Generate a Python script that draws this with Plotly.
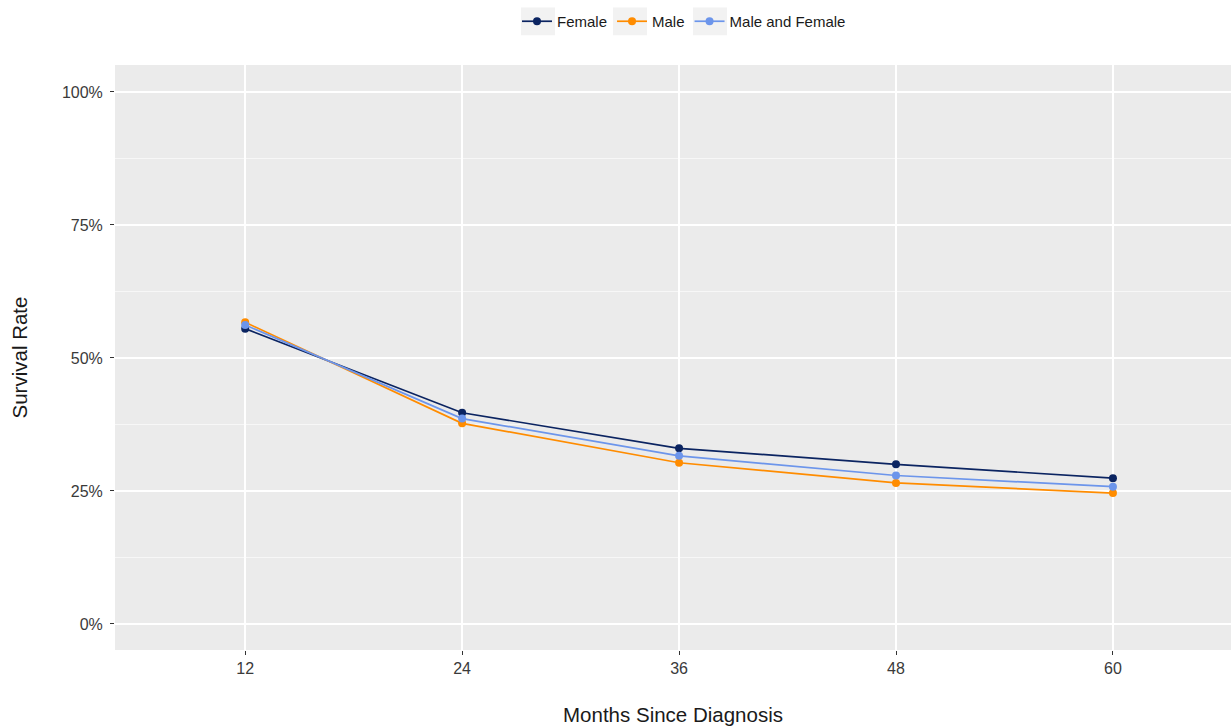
import plotly.graph_objects as go

months = [12, 24, 36, 48, 60]
female = [0.555, 0.397, 0.330, 0.300, 0.274]
male = [0.567, 0.377, 0.303, 0.265, 0.246]
male_female = [0.562, 0.386, 0.316, 0.279, 0.258]
x_ticks = [12, 24, 36, 48, 60]
y_ticks = [0, 0.25, 0.5, 0.75, 1.0]
y_tick_labels = ["0%", "25%", "50%", "75%", "100%"]

series = [
    ("Female", female, "#0B2461"),
    ("Male", male, "#FF8C00"),
    ("Male and Female", male_female, "#6C95EB"),
]

W, H = 1231, 726
ML, MR, MT, MB = 115, 0, 65, 72
PW = W - ML - MR
PH = H - MT - MB

fig = go.Figure()
for name, vals, col in series:
    fig.add_trace(go.Scatter(
        x=months, y=vals, name=name, mode="lines+markers",
        line=dict(color=col, width=1.7),
        marker=dict(color=col, size=8),
    ))

legend_left_px = 517


def px_to_paper_x(px):
    return (px - ML) / PW


def px_to_paper_y(py):
    return (H - MB - py) / PH


# grey legend key backgrounds (ggplot style)
for cx in [538, 630, 710]:
    fig.add_shape(
        type="rect", xref="paper", yref="paper",
        x0=px_to_paper_x(cx - 17), x1=px_to_paper_x(cx + 17),
        y0=px_to_paper_y(35), y1=px_to_paper_y(7),
        fillcolor="#F2F2F2", line=dict(width=0), layer="below",
    )

fig.update_layout(
    width=W, height=H,
    margin=dict(l=ML, r=MR, t=MT, b=MB),
    paper_bgcolor="white",
    plot_bgcolor="#EBEBEB",
    font=dict(family="Liberation Sans, Arial, sans-serif", size=15, color="#1a1a1a"),
    showlegend=True,
    legend=dict(
        orientation="h", x=px_to_paper_x(legend_left_px), xanchor="left",
        y=(H - 5) / H, yref="container", yanchor="top",
        font=dict(size=15, color="#1a1a1a"),
        bgcolor="rgba(0,0,0,0)",
    ),
)

fig.update_xaxes(
    range=[4.8, 66.53],
    tickvals=x_ticks, ticktext=[str(v) for v in x_ticks],
    showgrid=True, gridcolor="white", gridwidth=2,
    zeroline=False, showline=False,
    ticks="outside", ticklen=4, tickcolor="#333333", tickwidth=1,
    tickfont=dict(size=16, color="#3a3a3a"),
    title=dict(text="Months Since Diagnosis", font=dict(size=20.5, color="#1a1a1a"), standoff=34),
)
fig.update_yaxes(
    range=[-0.049, 1.0506],
    tickvals=y_ticks, ticktext=y_tick_labels,
    showgrid=True, gridcolor="white", gridwidth=2,
    minor=dict(tickvals=[0.125, 0.375, 0.625, 0.875], showgrid=True, gridcolor="#F7F7F7", gridwidth=1, ticks=""),
    zeroline=False, showline=False,
    ticks="outside", ticklen=4, tickcolor="#333333", tickwidth=1,
    ticklabelstandoff=4,
    tickfont=dict(size=16, color="#3a3a3a"),
    title=dict(text="Survival Rate", font=dict(size=20.5, color="#1a1a1a"), standoff=28),
)

fig.write_html(
    "out.html",
    config={"displayModeBar": False},
    post_script="document.body.style.margin='0';document.body.style.overflow='hidden';",
)
